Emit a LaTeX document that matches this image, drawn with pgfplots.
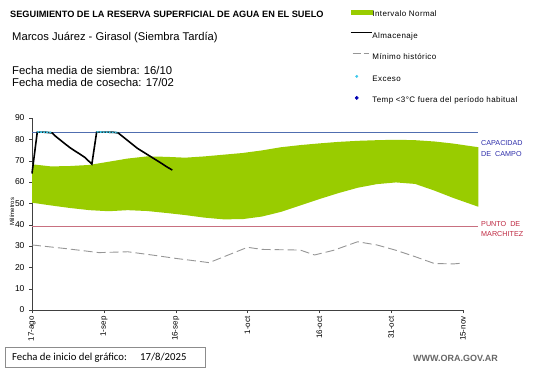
\documentclass[border=0pt]{standalone}
\usepackage{pgfplots}
\pgfplotsset{compat=1.18}
\usepgfplotslibrary{fillbetween}
\usepackage{fontspec}
\setmainfont{Liberation Sans}
\newfontfamily\calibri{Carlito}
\newfontfamily\legfont[LetterSpace=5]{Liberation Sans}
\definecolor{bandgreen}{RGB}{153,204,0}
\definecolor{ccline}{RGB}{80,110,176}
\definecolor{pmline}{RGB}{200,112,128}
\definecolor{cctext}{RGB}{45,45,170}
\definecolor{pmtext}{RGB}{190,40,65}
\definecolor{excyan}{RGB}{60,200,235}
\definecolor{mingray}{RGB}{150,150,150}
\begin{document}
\begin{tikzpicture}[x=1pt,y=1pt]
\path (0,0) rectangle (541,368);
\begin{axis}[
  at={(32pt,58pt)}, anchor=south west,
  scale only axis, width=431pt, height=192pt,
  xmin=0, xmax=90, ymin=0, ymax=90,
  clip=false,
  axis lines=left,
  axis line style={-, draw=black!75},
  tick align=outside, major tick length=3pt,
  tick style={black!75},
  /pgf/number format/assume math mode=true,
  xtick={0,15,30,45,60,75,90},
  xticklabels={17-ago,1-sep,16-sep,1-oct,16-oct,31-oct,15-nov},
  x tick label style={rotate=90, anchor=east, font=\fontsize{8}{9}\selectfont},
  ytick={0,10,...,90},
  y tick label style={font=\fontsize{8.5}{10}\selectfont, xshift=-1pt},
  legend style={at={(0.7378,1.5625)}, anchor=north west, draw=none, fill=none,
    inner sep=0pt, outer sep=0pt, row sep=13pt,
    font=\legfont\fontsize{8}{9}\selectfont,
    nodes={inner sep=0pt, text height=6pt, text depth=2pt},
    /tikz/every even column/.append style={column sep=3pt}},
  legend cell align=left,
]
\addlegendimage{legend image code/.code={\fill[bandgreen] (0pt,0.5pt) rectangle (21pt,4.5pt);}}
\addlegendentry{Intervalo Normal}
\addlegendimage{legend image code/.code={\draw[black, line width=1.5pt] (0pt,4pt) -- (21pt,4pt);}}
\addlegendentry{Almacenaje}
\addlegendimage{legend image code/.code={\draw[mingray, line width=0.8pt, dash pattern=on 8pt off 3pt on 5pt off 10pt] (2pt,4pt) -- (21pt,4pt);}}
\addlegendentry{Mínimo histórico}
\addlegendimage{legend image code/.code={\fill[excyan] (6pt,2.7pt) circle (1.3pt);}}
\addlegendentry{Exceso}
\addlegendimage{legend image code/.code={\fill[blue!70!black] (6pt,1.0pt) -- (7.7pt,2.7pt) -- (6pt,4.4pt) -- (4.3pt,2.7pt) -- cycle;}}
\addlegendentry{Temp <3°C fuera del período habitual}

\addplot[name path=up, draw=none, forget plot] table {
x y
0 68.3
4 67.3
8 67.5
12 68
16 69.5
20 71
24 72
28 71.8
32 71.4
36 72
40 72.8
44 73.6
48 74.8
52 76.3
56 77.3
60 78.1
64 78.8
68 79.3
72 79.6
76 79.8
80 79.6
84 79
88 78
93.2 76.3
};
\addplot[name path=lo, draw=none, forget plot] table {
x y
0 50.3
4 49
8 47.8
12 46.8
16 46.3
20 46.8
24 46.4
28 45.5
32 44.5
36 43.3
40 42.5
44 42.6
48 43.8
52 46
56 49
60 52
64 54.8
68 57.3
72 59
76 59.8
80 59.1
84 56
88 52.5
93.2 48.4
};
\addplot[bandgreen, forget plot] fill between[of=up and lo];

\addplot[ccline, line width=0.8pt, forget plot] coordinates {(0,83.3) (93.2,83.3)};
\addplot[pmline, line width=1.1pt, forget plot] coordinates {(0,39) (93.2,39)};

\addplot[mingray, line width=0.9pt, dash pattern=on 9pt off 4pt, forget plot] table {
x y
0 30.5
7 28.8
14 26.9
20 27.3
25 25.8
30 24.2
37 22.2
45 29.4
48 28.4
56 28.1
59 25.8
63 28
68 32
72 30.5
76 28
80 25
84 21.8
88 21.6
90 22
};

\addplot[black, line width=1.6pt, forget plot] table {
x y
0 64
1.1 83.4
2 83.4
3 83.3
4.2 83
5 81.3
6 79.5
7 77.7
8 76
9 74.5
10 73.1
11 71.6
12.5 68.4
13.5 83.4
15 83.4
17 83.3
18 83
19 81.2
20 79.4
21 77.6
22 75.8
23 74.4
24 73
25 71.6
26 70.2
27 68.8
28 67.3
29.3 65.6
};

\addplot[excyan, line width=1.6pt, dash pattern=on 2pt off 1pt, forget plot] table {
x y
1.1 83.5
4.2 83.2
};
\addplot[excyan, line width=1.6pt, dash pattern=on 2pt off 1pt, forget plot] table {
x y
13.5 83.5
18 83.2
};
\end{axis}

\node[anchor=base west, inner sep=0pt, font=\fontsize{9.2}{11}\selectfont\bfseries] at (10,350.3) {SEGUIMIENTO DE LA RESERVA SUPERFICIAL DE AGUA EN EL SUELO};
\node[anchor=base west, inner sep=0pt, font=\fontsize{11.2}{13}\selectfont] at (12,327.3) {Marcos Juárez - Girasol (Siembra Tardía)};
\node[anchor=base west, inner sep=0pt, font=\fontsize{11.3}{13}\selectfont] at (12,294) {Fecha media de siembra: 16/10};
\node[anchor=base west, inner sep=0pt, font=\fontsize{11.3}{13}\selectfont] at (12,282) {Fecha media de cosecha: 17/02};

\node[anchor=base west, inner sep=0pt, font=\fontsize{7.2}{8}\selectfont, text=cctext] at (481,222.3) {CAPACIDAD};
\node[anchor=base west, inner sep=0pt, font=\fontsize{7.2}{8}\selectfont, text=cctext] at (481,212) {DE\ \ CAMPO};
\node[anchor=base west, inner sep=0pt, font=\fontsize{7.2}{8}\selectfont, text=pmtext] at (481,142) {PUNTO\ \ DE};
\node[anchor=base west, inner sep=0pt, font=\fontsize{7.2}{8}\selectfont, text=pmtext] at (481,132) {MARCHITEZ};

\node[rotate=90, inner sep=0pt, font=\fontsize{6}{7}\selectfont] at (12,156.3) {Milímetros};

\draw[black!45, line width=0.8pt] (5,1) rectangle (205,20.7);
\node[anchor=base west, inner sep=0pt, font=\calibri\fontsize{10.7}{12}\selectfont] at (12,7.3) {Fecha de inicio del gráfico:};
\node[anchor=base west, inner sep=0pt, font=\calibri\fontsize{10.7}{12}\selectfont] at (140,7.3) {17/8/2025};
\node[anchor=base west, inner sep=0pt, font=\fontsize{9}{10}\selectfont\bfseries, text=black!60] at (413,6.3) {WWW.ORA.GOV.AR};
\end{tikzpicture}
\end{document}
